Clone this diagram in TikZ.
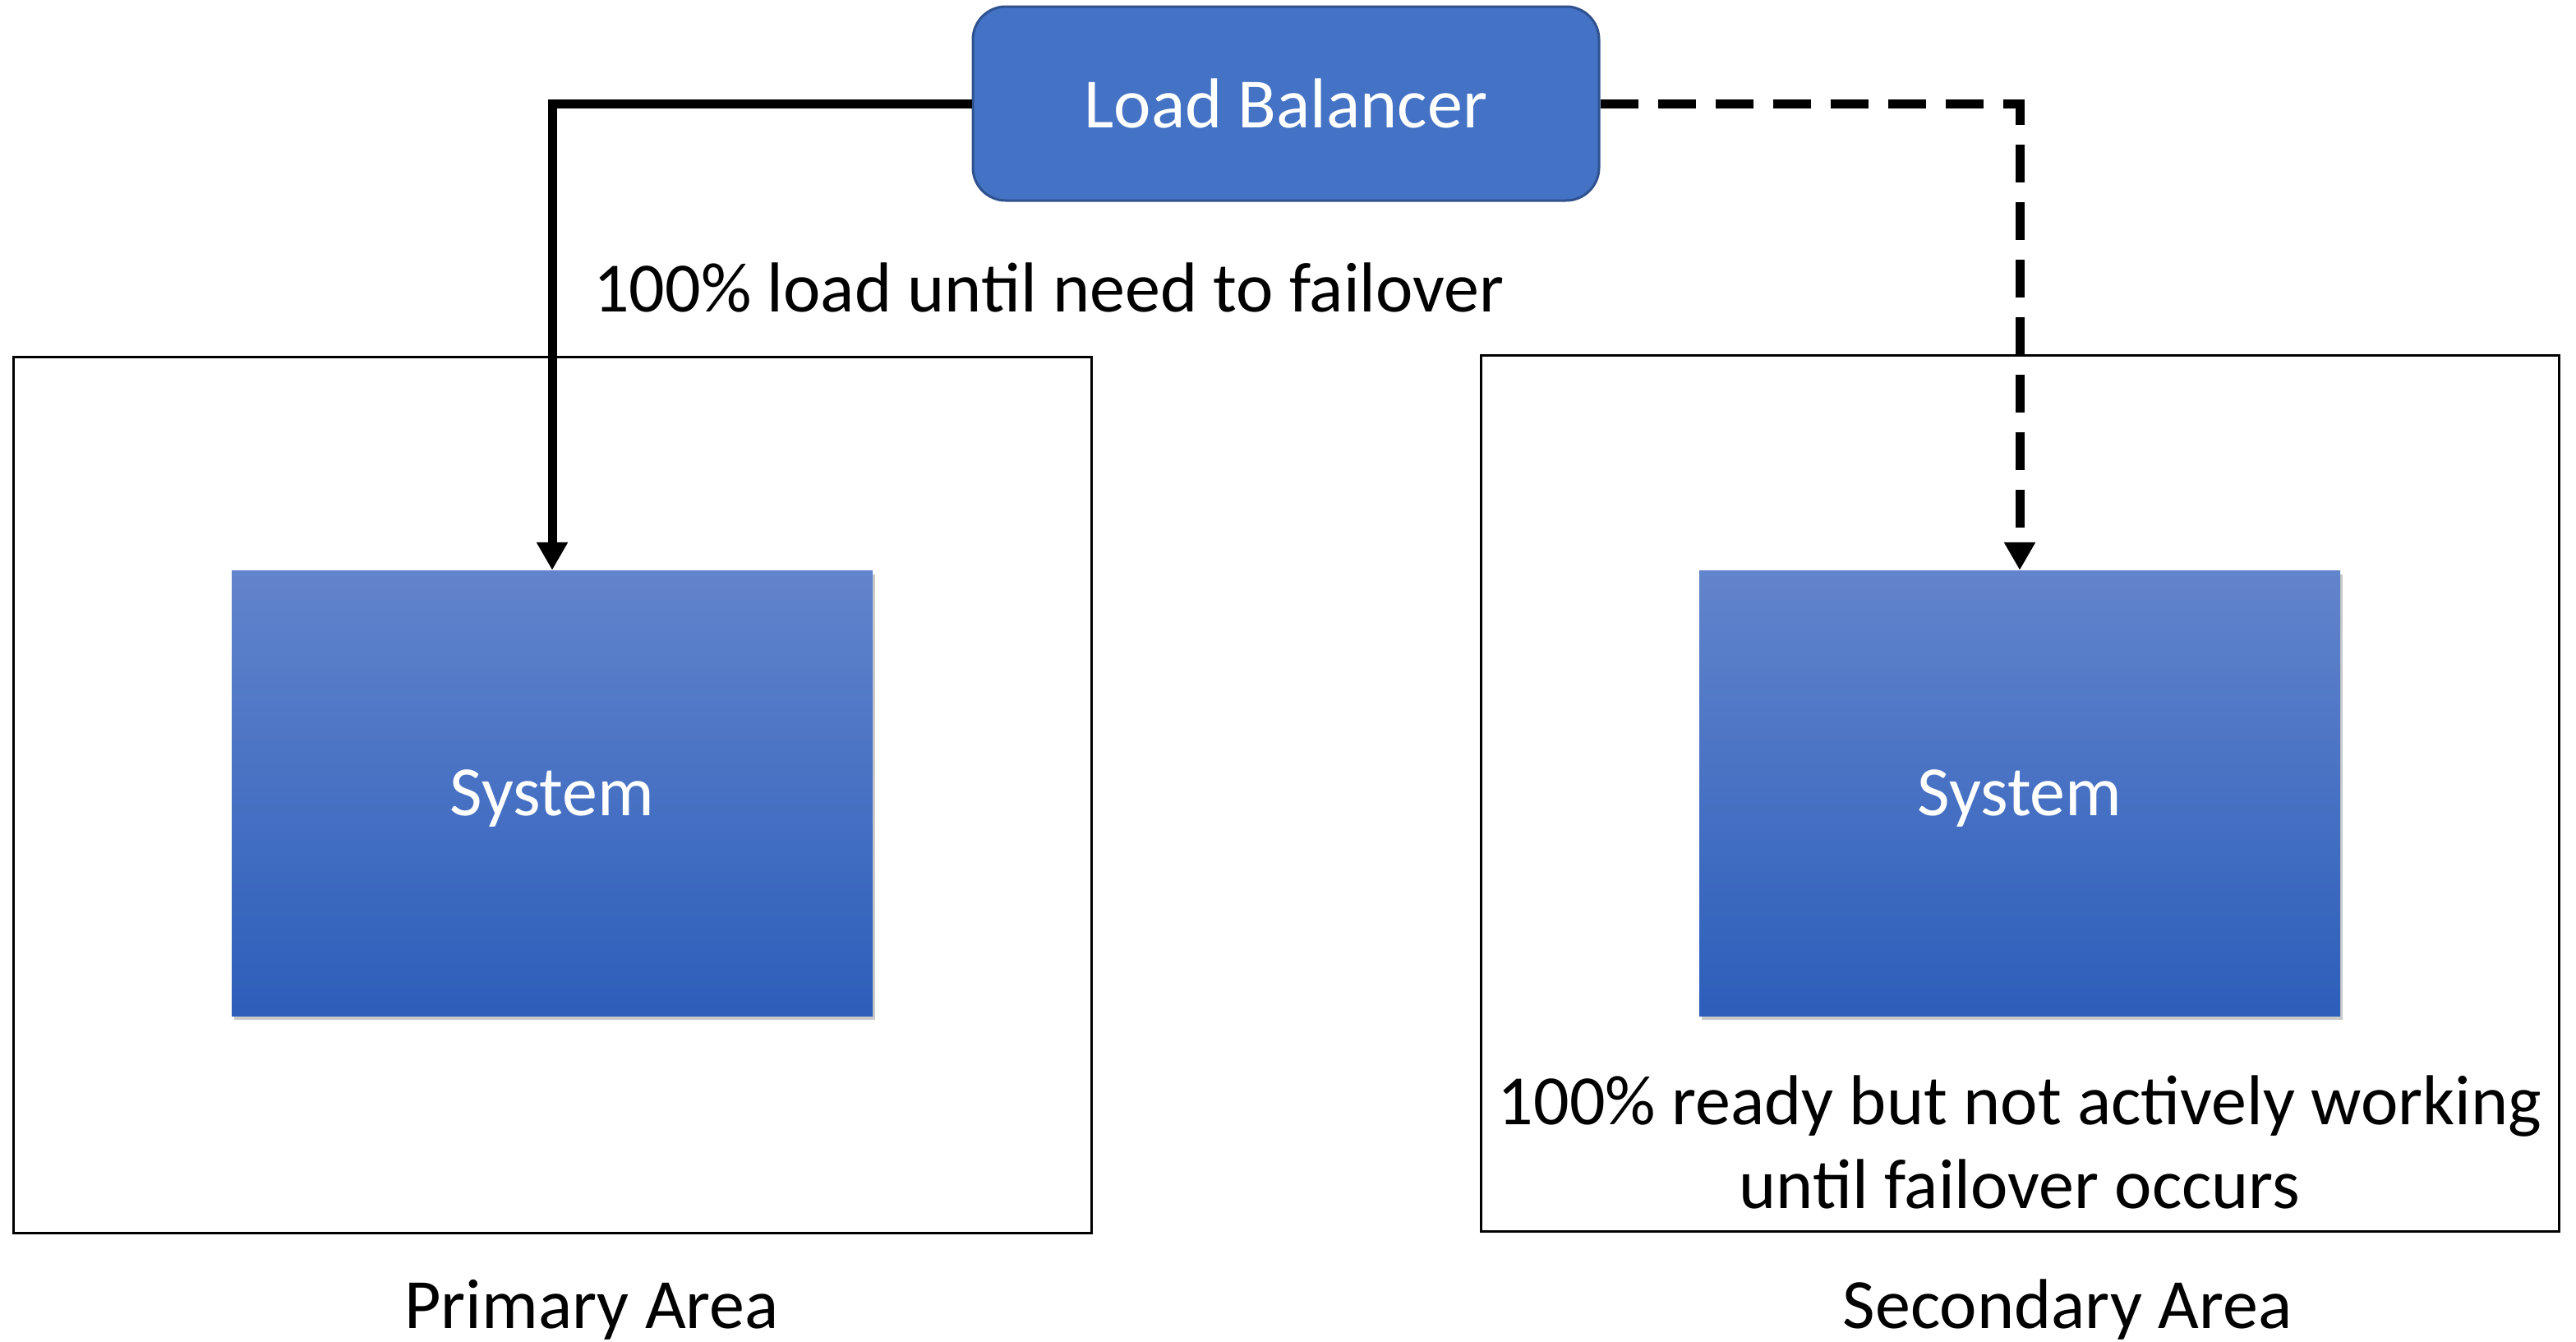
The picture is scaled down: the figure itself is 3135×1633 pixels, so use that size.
\documentclass[tikz,border=0pt]{standalone}
\usepackage{fontspec}
\setmainfont{Carlito}
\usetikzlibrary{arrows.meta,shadows}
\definecolor{lbfill}{RGB}{68,114,196}
\definecolor{lbdraw}{RGB}{47,82,143}
\definecolor{systop}{RGB}{98,132,204}
\definecolor{sysbot}{RGB}{44,94,186}
\tikzset{
  big/.style={font=\fontsize{86}{102}\selectfont},
  areabox/.style={draw=black, line width=3pt, minimum width=1312pt, minimum height=1066pt, inner sep=0pt},
  sysbox/.style={top color=systop, bottom color=sysbot, draw=none, minimum width=780pt, minimum height=542pt, inner sep=0pt, text=white, big, text depth=0pt,
    drop shadow={shadow xshift=3pt, shadow yshift=-5pt, opacity=0.35, fill=black!60}},
  lbbox/.style={fill=lbfill, draw=lbdraw, line width=3pt, rounded corners=40pt, minimum width=762pt, minimum height=236pt, inner sep=0pt, text=white, big},
  conn/.style={line width=11pt, -{Triangle[width=36pt,length=34pt]}},
  dconn/.style={conn, dash pattern=on 46pt off 24pt},
}
\begin{document}
\begin{tikzpicture}[x=1pt,y=-1pt]
\useasboundingbox (0,0) rectangle (3135,1633);
\node[areabox] (pa) at (672,967) {};
\node[areabox] (sa) at (2458,965) {};
\node[sysbox] (s1) at (672,965) {System};
\node[sysbox] (s2) at (2458,965) {System};
\node[lbbox] (lb) at (1565,126) {Load Balancer};
\coordinate (c1) at (s1.north |- lb.west);
\coordinate (c2) at (s2.north |- lb.east);
\draw[conn] (lb.west) -- (c1) -- (s1.north);
\draw[dconn] (lb.east) -- (c2) -- (s2.north);
\node[big, anchor=west, inner sep=0pt] (t1) at (722,350) {100\% load until need to failover};
\node[big, align=center, inner sep=0pt] (t2) at (2458,1390) {100\% ready but not actively working\\until failover occurs};
\node[big, inner sep=0pt] (l1) at (720,1594) {Primary Area};
\node[big, inner sep=0pt] (l2) at (2516,1594) {Secondary Area};
\end{tikzpicture}
\end{document}
